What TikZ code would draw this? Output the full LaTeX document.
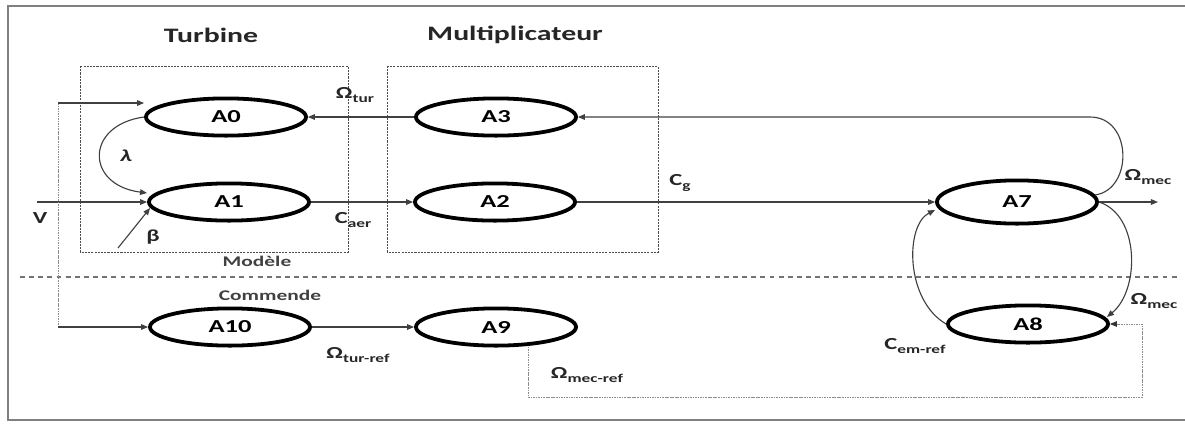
\documentclass[tikz,border=0pt]{standalone}
\usepackage{fontspec}
\setmainfont{Carlito}[FakeStretch=1.45]
\usetikzlibrary{arrows.meta,shapes.geometric,calc}

% subscript used in the signal names
\newcommand\sbs[1]{\raisebox{-0.4ex}{\fontsize{8.5}{9}\selectfont #1}}

\begin{document}
\begin{tikzpicture}[x=0.025cm,y=-0.025cm,
  blk/.style={ellipse,draw=black,line width=2.7pt,minimum width=4cm,
    minimum height=0.93cm,inner sep=0pt,font=\fontsize{13}{13}\selectfont\bfseries},
  link/.style={draw=black!75,line width=0.8pt,-{Triangle[length=5pt,width=4pt]}},
  faint/.style={draw=black!45,line width=0.6pt,dash pattern=on 1.2pt off 0.6pt},
  faintlink/.style={faint,-{Triangle[length=5pt,width=4pt,color=black!80]}},
  groupbox/.style={draw=black!70,line width=0.6pt,dash pattern=on 1.5pt off 0.8pt},
  sep/.style={draw=black!55,line width=0.8pt,dash pattern=on 3.5pt off 3pt},
  title/.style={font=\fontsize{14.6}{15}\selectfont\bfseries,text=black!85,inner sep=0pt},
  zone/.style={font=\fontsize{10.5}{11}\selectfont\bfseries,text=black!75,inner sep=0pt},
  lbl/.style={font=\fontsize{12}{12}\selectfont\bfseries,text=black!85,inner sep=0pt}
]
\useasboundingbox (0,0) rectangle (1185,423);

% outer frame, open on the right
\draw[black!50,line width=2pt] (1190,6) -- (8,6) -- (8,420) -- (1190,420);

% group frames and titles
\draw[groupbox] (80,66) rectangle (348,252);
\draw[groupbox] (387,66) rectangle (658,252);
\node[title] (tTurb) at (211,35) {Turbine};
\node[title] (tMult) at (515,35) {Multiplicateur};
\draw[sep] (20,277) -- (1178,277);
\node[zone] (zMod) at (257,261) {Modèle};
\node[zone] (zCom) at (270,295) {Commende};

% blocks
\node[blk] (A0) at (226,117) {A0};
\node[blk] (A1) at (229,202) {A1};
\node[blk] (A3) at (496,117) {A3};
\node[blk] (A2) at (495,202) {A2};
\node[blk,minimum height=1.08cm] (A7) at (1017,202) {A7};
\node[blk] (A8) at (1028,324) {A8};
\node[blk] (A10) at (230,327) {A10};
\node[blk] (A9) at (496,327) {A9};

% wind speed input and its branches
\coordinate (vin) at (37,202);
\coordinate (vtop) at (58,103);
\coordinate (vbot) at (58,327);
\node[lbl] (lV) at (40,218) {V};
\draw[link] (vin) -- (A1.west);
\draw[faint] (vtop) -- (vbot);
\draw[link] (vtop) -- (vtop -| A0.west);
\draw[link] (vbot) -- (A10.west);

% tip speed ratio
\draw[link] (A0.west) .. controls (85,125) and (85,185) .. ($(A1.west)+(0,-9)$);
\node[lbl] (llam) at (126,156) {\itshape λ};

% pitch angle
\coordinate (bin) at (118,248);
\draw[link] (bin) -- ($(A1.west)+(3,6)$);
\node[lbl] (lbeta) at (153,237) {β};

% turbine / gearbox
\draw[link] (A3.west) -- (A0.east);
\node[lbl] (lOt) at (355,95) {Ω\sbs{tur}};
\draw[link] (A1.east) -- (A2.west);
\node[lbl] (lCa) at (353,220) {C\sbs{aer}};
\draw[link] (A2.east) -- (A7.west);
\node[lbl] (lCg) at (680,183) {C\sbs{g}};

% shaft
\coordinate (out) at (1158,202);
\draw[link] (A7.east) -- (out);
\draw[link] ($(A7.east)+(-4,-7)$) .. controls (1133,190) and (1133,117) .. (1090,117) -- (A3.east);
\node[lbl] (lOm1) at (1148,177) {Ω\sbs{mec}};
\draw[link] (A7.east) .. controls (1140,215) and (1140,290) .. ($(A8.east)+(-3,-7)$);
\node[lbl] (lOm2) at (1154,301) {Ω\sbs{mec}};
\draw[link] (A8.west) .. controls (905,300) and (905,225) .. ($(A7.west)+(0,8)$);
\node[lbl] (lCem) at (915,346) {C\sbs{em-ref}};

% control chain
\draw[link] (A10.east) -- (A9.west);
\node[lbl] (lOtr) at (358,355) {Ω\sbs{tur-ref}};
\coordinate (d1) at (528,397);
\coordinate (d2) at (1142,397);
\coordinate (d3) at (1142,324);
\draw[faintlink] ($(A9.south)+(32,-1)$) -- (d1) -- (d2) -- (d3) -- (A8.east);
\node[lbl] (lOmr) at (587,375) {Ω\sbs{mec-ref}};
\end{tikzpicture}
\end{document}
